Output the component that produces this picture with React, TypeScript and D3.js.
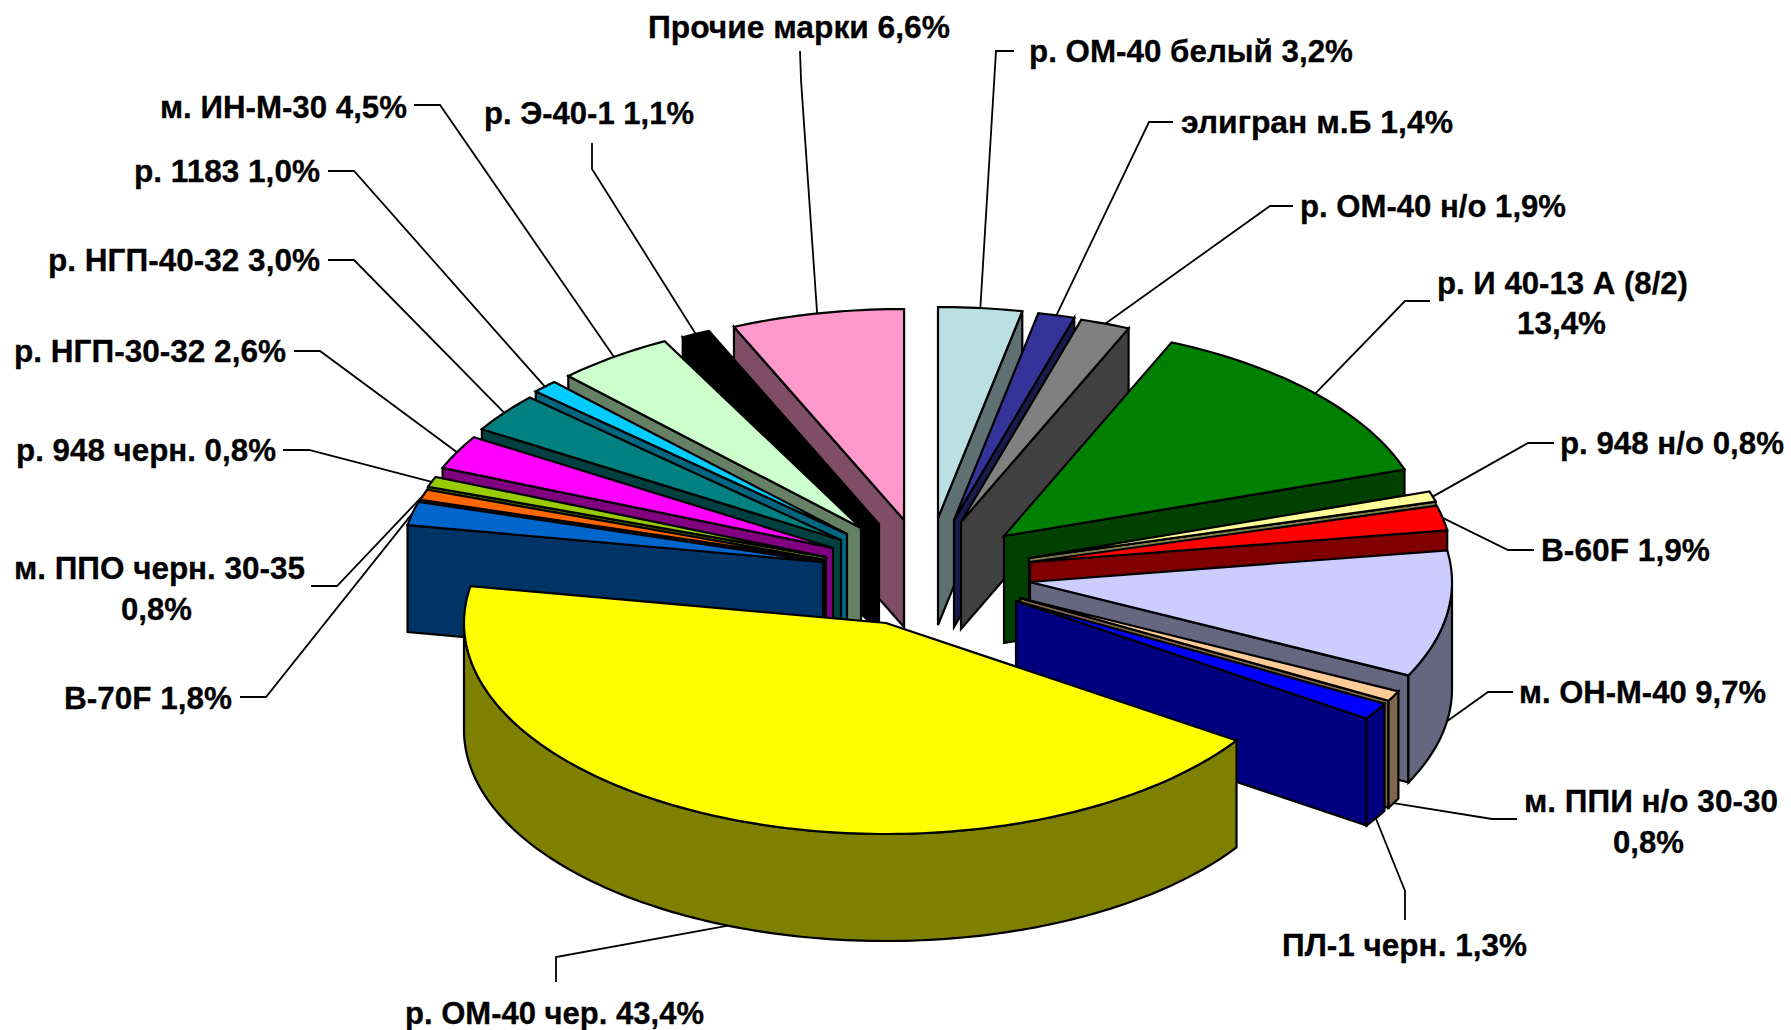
import React from "react";
import * as d3 from "d3";

// ---- data ----
const sliceNames = ["р. ОМ-40 белый","элигран м.Б","р. ОМ-40 н/о","р. И 40-13 А (8/2)","р. 948 н/о","В-60F","м. ОН-М-40","м. ППИ н/о 30-30","ПЛ-1 черн.","р. ОМ-40 чер.","В-70F","м. ППО черн. 30-35","р. 948 черн.","р. НГП-30-32","р. НГП-40-32","р. 1183","м. ИН-М-30","р. Э-40-1","Прочие марки"];
const sliceValues = [3.2,1.4,1.9,13.4,0.8,1.9,9.7,0.8,1.3,43.4,1.8,0.8,0.8,2.6,3.0,1.0,4.5,1.1,6.6];
const sliceColors = ["#BBE0E3","#333399","#808080","#008000","#FFFF99","#FF0000","#CCCCFF","#FFCC99","#0000FF","#FFFF00","#0066CC","#FF6600","#99CC00","#FF00FF","#008080","#00CCFF","#CCFFCC","#000000","#FF99CC"];

// ---- layout ----
const W = 1791, H = 1030;
const RX = 422, RY = 211, DEPTH = 107;
const CX = 905, CY = 560;
const offsetX = [33,49,56,99,124,125,125,115,111,-19,-82,-80,-79,-72,-64,-58,-44,-26,-1];
const offsetY = [-42,-40,-38,-24,-2,2,22,38,41,63,2,0,-3,-12,-20,-26,-32,-36,-40];

const labelLines = [
  { lines:["р. ОМ-40 белый 3,2%"], x:[[1029,1353]], y:[51] },
  { lines:["элигран м.Б 1,4%"], x:[[1181,1453]], y:[122] },
  { lines:["р. ОМ-40 н/о 1,9%"], x:[[1300,1566]], y:[206] },
  { lines:["р. И 40-13 А (8/2)","13,4%"], x:[[1437,1688],[1517,1606]], y:[283,323] },
  { lines:["р. 948 н/о 0,8%"], x:[[1560,1784]], y:[443] },
  { lines:["В-60F 1,9%"], x:[[1541,1710]], y:[550] },
  { lines:["м. ОН-М-40 9,7%"], x:[[1519,1766]], y:[692] },
  { lines:["м. ППИ н/о 30-30","0,8%"], x:[[1524,1778],[1613,1684]], y:[801,842] },
  { lines:["ПЛ-1 черн. 1,3%"], x:[[1282,1527]], y:[945] },
  { lines:["р. ОМ-40 чер. 43,4%"], x:[[405,704]], y:[1013] },
  { lines:["В-70F 1,8%"], x:[[64,232]], y:[698] },
  { lines:["м. ППО черн. 30-35","0,8%"], x:[[14,305],[121,192]], y:[568,609] },
  { lines:["р. 948 черн. 0,8%"], x:[[16,276]], y:[450] },
  { lines:["р. НГП-30-32 2,6%"], x:[[14,286]], y:[351] },
  { lines:["р. НГП-40-32 3,0%"], x:[[48,320]], y:[260] },
  { lines:["р. 1183 1,0%"], x:[[134,320]], y:[171] },
  { lines:["м. ИН-М-30 4,5%"], x:[[160,407]], y:[107] },
  { lines:["р. Э-40-1 1,1%"], x:[[484,694]], y:[113] },
  { lines:["Прочие марки 6,6%"], x:[[648,950]], y:[27] },
];
const leaderStart = [[1014,51],[1173,122],[1293,206],[1430,301],[1554,443],[1534,550],[1513,692],[1517,819],[1405,920],[556,982],[240,697],[311,586],[283,450],[294,351],[328,260],[328,171],[414,105],[592,143],[800,51]];
const leaderElbow = [[996,51],[1149,122],[1270,206],[1405,301],[1528,443],[1508,550],[1488,692],[1492,819],[1405,891],[556,957],[266,697],[337,586],[309,450],[320,351],[354,260],[354,171],[440,105],[592,169],[801,80]];

const x = d3.scaleLinear().domain([-1, 1]).range([-RX, RX]);
const y = d3.scaleLinear().domain([-1, 1]).range([-RY, RY]);
const line = d3.line<number[]>().curve(d3.curveLinear);
const TAU = Math.PI * 2;
const pie = d3.pie<number>().sort(null).value((d) => d).startAngle(0).endAngle(TAU);

function darken(c: string) {
  const r = d3.rgb(c);
  return d3.rgb(r.r * 0.5, r.g * 0.5, r.b * 0.5).formatHex();
}
function rimPt(ax: number, ay: number, a: number): number[] {
  return [ax + x(Math.sin(a)), ay + y(-Math.cos(a))];
}
function arcPts(ax: number, ay: number, a0: number, a1: number): number[][] {
  const n = Math.max(2, Math.ceil(Math.abs(a1 - a0) / 0.02));
  return d3.range(n + 1).map((i) => rimPt(ax, ay, a0 + ((a1 - a0) * i) / n));
}
const down = (p: number[]) => [p[0], p[1] + DEPTH];

export default function App() {
  const arcs = pie(sliceValues);
  const slices = arcs.map((a, i) => {
    const mid = (a.startAngle + a.endAngle) / 2;
    return {
      i, a0: a.startAngle, a1: a.endAngle, mid,
      ax: CX + offsetX[i], ay: CY + offsetY[i],
      dist: Math.min(mid, TAU - mid),
      color: sliceColors[i], dark: darken(sliceColors[i]),
    };
  });
  const order = [...slices].sort((p, q) => p.dist - q.dist);
  const stroke = { stroke: "#000", strokeWidth: 2.2, strokeLinejoin: "miter" as const };

  return (
    <svg width={W} height={H} viewBox={`0 0 ${W} ${H}`} style={{ position: "absolute", left: 0, top: 0, background: "#fff" }}>
      {slices.map((s) => {
        const p = rimPt(s.ax, s.ay, s.mid);
        const end = Math.cos(s.mid) < 0 ? down(p) : p;
        return <path key={s.i} d={line([leaderStart[s.i], leaderElbow[s.i], end]) as string} fill="none" stroke="#000" strokeWidth={1.8} />;
      })}
      {order.map((s) => {
        const apex = [s.ax, s.ay];
        const rs = rimPt(s.ax, s.ay, s.a0), re = rimPt(s.ax, s.ay, s.a1);
        const r0 = Math.max(s.a0, Math.PI / 2), r1 = Math.min(s.a1, (3 * Math.PI) / 2);
        const top = arcPts(s.ax, s.ay, s.a0, s.a1);
        let rimWall: number[][] | null = null;
        if (r1 > r0) {
          const t = arcPts(s.ax, s.ay, r0, r1);
          rimWall = [...t, ...t.slice().reverse().map(down)];
        }
        return (
          <g key={s.i}>
            {Math.sin(s.a0) < 0 && <path d={(line([apex, rs, down(rs), down(apex)]) as string) + "Z"} fill={s.dark} {...stroke} />}
            {Math.sin(s.a1) > 0 && <path d={(line([apex, re, down(re), down(apex)]) as string) + "Z"} fill={s.dark} {...stroke} />}
            {rimWall && <path d={(line(rimWall) as string) + "Z"} fill={s.dark} {...stroke} />}
            <path d={(line([apex, ...top]) as string) + "Z"} fill={s.color} {...stroke} />
          </g>
        );
      })}
      {labelLines.map((l, i) =>
        l.lines.map((t, j) => (
          <text key={i + "-" + j} x={l.x[j][0]} y={l.y[j]} dy="0.36em" fontFamily="Liberation Sans, Arial, sans-serif" fontWeight="bold" fontSize={31}
            stroke="#000" strokeWidth={0.3}
            textLength={l.x[j][1] - l.x[j][0]} lengthAdjust="spacingAndGlyphs" fill="#000">{t}</text>
        ))
      )}
    </svg>
  );
}
